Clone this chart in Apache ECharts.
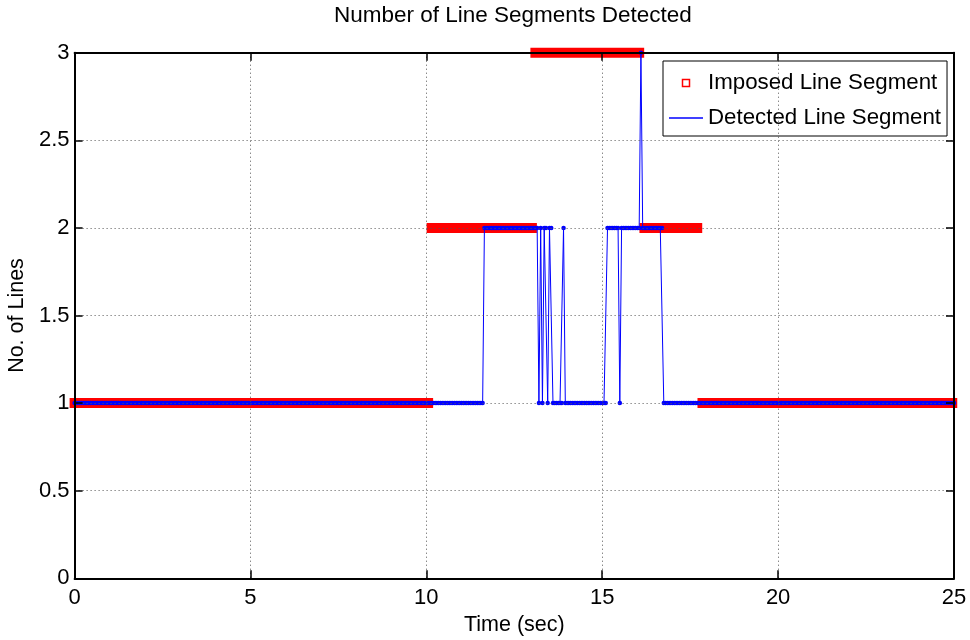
<!DOCTYPE html>
<html>
<head>
<meta charset="utf-8">
<script src="https://cdn.jsdelivr.net/npm/echarts@6/dist/echarts.min.js"></script>
<style>
  html, body { margin: 0; padding: 0; background: #fff; }
  #chart { width: 970px; height: 640px; }
</style>
</head>
<body>
<div id="chart"></div>
<script>
// Axis ticks
const xTicks = [0, 5, 10, 15, 20, 25];
const yTicks = [0, 0.5, 1, 1.5, 2, 2.5, 3];

// Imposed segments: [start time, end time, number of lines]
const imposedRuns = [
  [0.00, 10.05, 1],
  [10.15, 13.00, 2],
  [13.10, 16.05, 3],
  [16.20, 17.70, 2],
  [17.85, 24.95, 1]
];

// Detected count, sampled every 0.05 s, stored as runs of equal value:
// [first sample time, last sample time, number of lines]
const sampleStep = 0.05;
const detectedRuns = [
  [0.00, 11.60, 1],
  [11.65, 13.15, 2],
  [13.20, 13.20, 1],
  [13.25, 13.25, 2],
  [13.30, 13.30, 1],
  [13.35, 13.40, 2],
  [13.45, 13.45, 1],
  [13.50, 13.55, 2],
  [13.60, 13.85, 1],
  [13.90, 13.90, 2],
  [13.95, 15.10, 1],
  [15.15, 15.45, 2],
  [15.50, 15.50, 1],
  [15.55, 16.05, 2],
  [16.10, 16.10, 3],
  [16.15, 16.70, 2],
  [16.75, 25.00, 1]
];

// Expand the runs back into the sampled signal
const detectedData = [];
detectedRuns.forEach(([t0, t1, v]) => {
  const i0 = Math.round(t0 / sampleStep);
  const i1 = Math.round(t1 / sampleStep);
  for (let i = i0; i <= i1; i++) {
    detectedData.push([+(i * sampleStep).toFixed(2), v]);
  }
});

// Imposed segments as separate strokes of one series
const imposedData = [];
imposedRuns.forEach(([t0, t1, v]) => {
  imposedData.push([t0, v], [t1, v], [t1, '-']);
});

const FONT = "'Liberation Sans', Arial, Helvetica, sans-serif";

const chart = echarts.init(document.getElementById('chart'), null, { renderer: 'canvas' });

const frameAxis = {
  axisLine: { show: true, onZero: false, lineStyle: { color: '#000', width: 2 } },
  axisTick: { show: true, inside: true, length: 8, lineStyle: { color: '#000', width: 1.5 } },
  axisLabel: { show: false },
  splitLine: { show: false },
  z: 10
};

chart.setOption({
  animation: false,
  backgroundColor: '#fff',
  title: {
    text: 'Number of Line Segments Detected',
    left: 334,
    top: 4,
    padding: 0,
    textStyle: { fontFamily: FONT, fontSize: 22.5, fontWeight: 'normal', color: '#000' }
  },
  grid: {
    left: 74.6, right: 16, top: 52.7, bottom: 61.7,
    containLabel: false,
    outerBoundsMode: 'none'
  },
  legend: {
    orient: 'vertical',
    left: 663,
    top: 61,
    padding: [11, 6, 7, 6],
    itemGap: 13,
    itemWidth: 34,
    itemHeight: 7,
    backgroundColor: '#fff',
    borderColor: '#000',
    borderWidth: 1,
    borderRadius: 0,
    textStyle: { fontFamily: FONT, fontSize: 22.3, color: '#000' },
    data: [
      {
        name: 'Imposed Line Segment',
        icon: 'path://M0,0h10v10h-10z',
        itemStyle: { color: '#fff', borderColor: '#ff0000', borderWidth: 1.5 }
      },
      {
        name: 'Detected Line Segment',
        icon: 'path://M0,0h34v1.5h-34z',
        itemStyle: { color: '#0000ff', borderWidth: 0 }
      }
    ]
  },
  xAxis: [
    {
      type: 'value', min: 0, max: 25, interval: 5,
      name: 'Time (sec)', nameLocation: 'middle', nameGap: 27,
      nameTextStyle: { fontFamily: FONT, fontSize: 21.5, color: '#000' },
      axisLine: { show: true, onZero: false, lineStyle: { color: '#000', width: 2 } },
      axisTick: { show: true, inside: true, length: 8, lineStyle: { color: '#000', width: 1.5 } },
      axisLabel: { margin: 9, fontFamily: FONT, fontSize: 22, color: '#000',
        formatter: v => xTicks.includes(v) ? String(v) : '' },
      splitLine: { show: true, lineStyle: { color: '#555', width: 1, type: [1, 3] } },
      z: 10
    },
    Object.assign({ type: 'value', min: 0, max: 25, interval: 5, position: 'top' }, frameAxis)
  ],
  yAxis: [
    {
      type: 'value', min: 0, max: 3, interval: 0.5,
      name: 'No. of Lines', nameLocation: 'middle', nameGap: 41,
      nameTextStyle: { fontFamily: FONT, fontSize: 21.5, color: '#000' },
      axisLine: { show: true, onZero: false, lineStyle: { color: '#000', width: 2 } },
      axisTick: { show: true, inside: true, length: 8, lineStyle: { color: '#000', width: 1.5 } },
      axisLabel: { margin: 5, fontFamily: FONT, fontSize: 22, color: '#000',
        formatter: v => yTicks.includes(v) ? String(v) : '' },
      splitLine: { show: true, lineStyle: { color: '#555', width: 1, type: [1, 3] } },
      z: 10
    },
    Object.assign({ type: 'value', min: 0, max: 3, interval: 0.5, position: 'right' }, frameAxis)
  ],
  series: [
    {
      name: 'Imposed Line Segment',
      type: 'line',
      data: imposedData,
      showSymbol: false,
      connectNulls: false,
      clip: false,
      lineStyle: { color: '#ff0000', width: 10, cap: 'square' },
      itemStyle: { color: '#ff0000' },
      emphasis: { disabled: true },
      z: 2
    },
    {
      name: 'Detected Line Segment',
      type: 'line',
      data: detectedData,
      symbol: 'circle',
      symbolSize: 4.5,
      showAllSymbol: true,
      clip: false,
      lineStyle: { color: '#0000ff', width: 1 },
      itemStyle: { color: '#0000ff' },
      emphasis: { disabled: true },
      z: 3
    }
  ]
});
</script>
</body>
</html>
